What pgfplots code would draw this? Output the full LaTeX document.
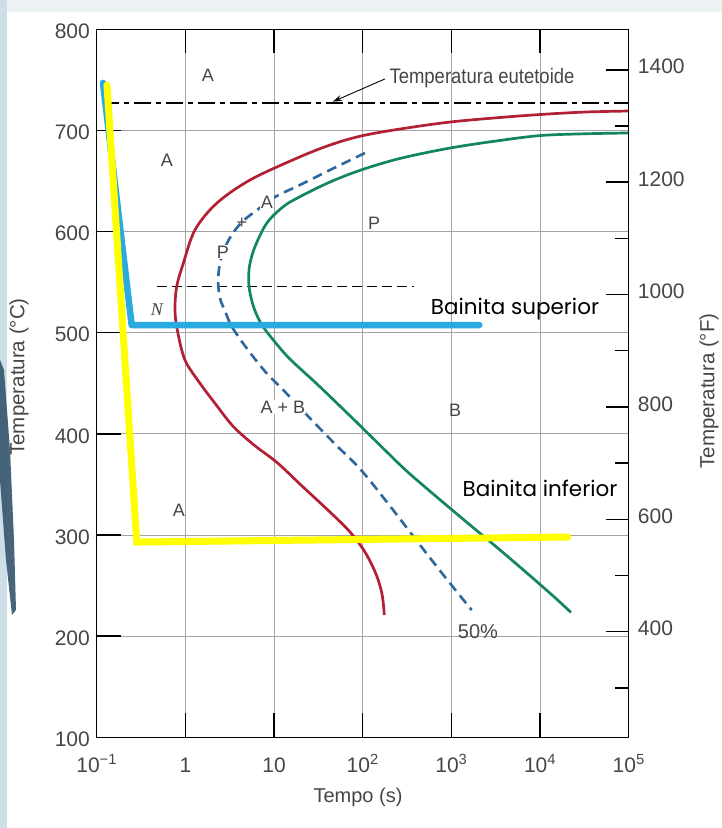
\documentclass[border=0pt]{standalone}
\usepackage{pgfplots}
\pgfplotsset{compat=1.18}
\usetikzlibrary{arrows.meta}
\usepackage{fontspec}
\setmainfont{Liberation Sans}
\newfontfamily\condfont[FakeStretch=0.88]{Liberation Sans}
\newfontfamily\serifit{Liberation Serif}
\newfontfamily\slidefont{Poppins}

\definecolor{ttred}{RGB}{178,32,52}
\definecolor{ttgreen}{RGB}{18,135,92}
\definecolor{ttblue}{RGB}{46,102,158}
\definecolor{gridgray}{RGB}{165,165,165}
\definecolor{labelgray}{RGB}{70,70,70}
\definecolor{upperbainite}{RGB}{41,171,226}
\definecolor{lowerbainite}{RGB}{255,255,0}
\definecolor{slidebg}{RGB}{236,241,244}
\definecolor{slideedge}{RGB}{206,222,230}
\definecolor{slidedark}{RGB}{52,84,108}

\newcommand{\fs}[1]{\fontsize{#1}{#1}\selectfont}

\begin{document}
\begin{tikzpicture}[x=1pt,y=1pt]
\path[use as bounding box] (0,0) rectangle (722,828);
\fill[white] (0,0) rectangle (722,828);
\fill[slidebg] (0,816) rectangle (722,828);
\fill[slideedge] (0,0) rectangle (7,828);
\fill[slidedark, opacity=0.9] (0,468) -- (4,458) -- (10,378) -- (14,288) -- (16,218) -- (12,213) -- (6,268) -- (0,348) -- cycle;

% temperature in degrees Celsius against time
\begin{axis}[
  name=main,
  at={(96.7pt,90.7pt)}, anchor=south west,
  scale only axis, width=532pt, height=708pt,
  xmode=log, xmin=0.1, xmax=1e5, ymin=100, ymax=800,
  xminorticks=false, yminorticks=false,
  axis line style={line width=1.5pt},
  xtick={0.1,1,10,100,1000,10000,100000},
  xticklabels={10\textsuperscript{−1},1,10,10\textsuperscript{2},10\textsuperscript{3},10\textsuperscript{4},10\textsuperscript{5}},
  ytick={100,200,...,800},
  yticklabels={100,200,300,400,500,600,700,800},
  xtick pos=both, ytick pos=left,
  xticklabel pos=lower, yticklabel pos=left,
  tick align=inside,
  major tick length=24pt,
  tick style={line width=1.5pt, black},
  grid=major,
  major grid style={gridgray, line width=0.8pt},
  xticklabel style={font=\fs{21}, text=labelgray, anchor=base, yshift=-34.7pt, inner sep=0pt},
  yticklabel style={font=\fs{21}, text=labelgray, anchor=east, xshift=-6.7pt, yshift=-2pt, inner sep=0pt},
  every axis plot/.append style={line join=round},
]
% eutectoid temperature
\addplot[black, line width=1.3pt, dash pattern=on 17pt off 5pt on 5pt off 5pt]
  coordinates {(0.1138,727) (1e5,727)};
% nose level
\addplot[black, line width=1.3pt, dash pattern=on 10pt off 5pt]
  coordinates {(0.479,545.5) (379,545.5)};
% start of transformation
\addplot[ttred, line width=2.7pt, smooth, tension=0.55] coordinates {
  (1e5,719.2) (32100,718.2) (10250,715.8) (3535,712.8) (965,708.3) (263,701.4)
  (95.7,694.5) (42.8,685.6) (18.0,672.5) (5.36,651) (2.256,628) (1.284,601.6)
  (0.948,568.6) (0.798,545.5) (0.764,522.5) (0.811,502.7) (0.990,473) (1.462,450)
  (2.256,428) (3.47,407.3) (5.94,389) (10.8,371.7) (20.7,348.4) (42.8,322.7)
  (71.9,303) (106.1,283.2) (141.2,261.4) (165.1,241.7) (175.2,220.9)};
% end of transformation
\addplot[ttgreen, line width=2.7pt, smooth, tension=0.55] coordinates {
  (1e5,697.5) (32100,696.7) (10250,695) (3535,690.1) (965,682.6) (263,672.3)
  (95.7,660.9) (42.8,649) (19.6,634.5) (12.7,624.6) (8.26,608.2) (6.10,585.1)
  (5.36,568.6) (5.18,556.1) (5.29,542.2) (5.94,524.4) (7.31,507.6) (10.25,490.8)
  (15.1,474) (30.5,449.3) (59.9,424.6) (100.8,405.3) (203,379.1) (341.5,360.3)
  (990,325.7) (3535,285.2) (8770,255.5) (15800,235.7) (22340,223.4)};
% 50% transformation
\addplot[ttblue, line width=2.6pt, smooth, tension=0.55, dash pattern=on 10pt off 6pt] coordinates {
  (106.1,677.7) (42.8,660.9) (19.6,646.1) (10.25,634.2) (6.42,621.3) (4.35,609.5)
  (3.27,595.6) (2.73,581.8) (2.46,568.9) (2.35,555.1) (2.36,544.2) (2.49,532.4)
  (2.80,521.5) (3.36,505.7) (5.09,482.9) (8.26,459.9) (12.7,443.4) (26.6,413.7)
  (50.0,389) (95.7,364.3) (203,328.7) (443,290.1) (847,258.5) (1695,225.8)};
\draw[line width=0.9pt, -{Stealth[length=9pt,width=6pt]}] (axis cs:178,750.9) -- (axis cs:46.2,728.5);
% cooling paths
\addplot[upperbainite, line width=6.5pt, line cap=round, line join=round]
  coordinates {(0.1178,747) (0.248,507.6) (2065,507.6)};
\addplot[lowerbainite, line width=7pt, line cap=round, line join=miter]
  coordinates {(0.1306,745) (0.283,293) (20500,298)};
\end{axis}

% temperature in degrees Fahrenheit
\begin{axis}[
  at={(96.7pt,90.7pt)}, anchor=south west,
  scale only axis, width=532pt, height=708pt,
  xmin=0, xmax=1, ymin=212, ymax=1472,
  axis x line=none, axis y line*=right,
  axis line style={line width=1.5pt, -},
  ytick={400,600,...,1400}, minor ytick={300,500,...,1300},
  yticklabels={400,600,800,1000,1200,1400},
  tick align=inside, major tick length=23pt, minor tick length=14pt,
  tick style={line width=1.5pt, black},
  yticklabel style={font=\fs{21}, text=labelgray, anchor=west, xshift=9pt, yshift=3pt, inner sep=0pt},
]
\end{axis}

% axis titles
\node[rotate=90, font=\fs{20.5}, text=labelgray] at (19,451) {Temperatura (°C)};
\node[rotate=90, font=\fs{20.5}, text=labelgray] at (709,437) {Temperatura (°F)};
\node[font=\fs{20}, text=labelgray] at (358,31) {Tempo (s)};
\node[anchor=west, font=\condfont\fs{21}, text=labelgray] at (386,750) {Temperatura eutetoide};

% phase fields
\begin{scope}[every node/.style={font=\fs{18}, text=labelgray, inner sep=1pt}]
\node at (208,753) {A};
\node at (167,668) {A};
\node[fill=white] at (267,626) {A};
\node at (242,605) {+};
\node[fill=white] at (223,576) {P};
\node at (374,605) {P};
\node[font=\serifit\itshape\fs{18}] at (157,518) {N};
\node[fill=white] at (283,421) {A + B};
\node at (455,418) {B};
\node at (179,318) {A};
\node[font=\fs{20}] at (478,196) {50\%};
\end{scope}

\node[anchor=base, font=\slidefont\fs{21.5}] at (515,513) {Bainita superior};
\node[anchor=base, font=\slidefont\fs{21.5}] at (540,331) {Bainita inferior};
\end{tikzpicture}
\end{document}
